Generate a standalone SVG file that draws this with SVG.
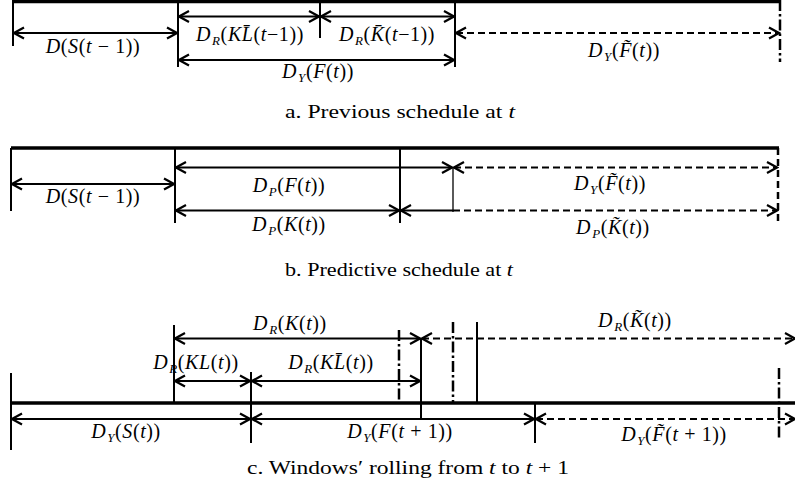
<svg xmlns="http://www.w3.org/2000/svg" width="795" height="487" viewBox="0 0 795 487">
<style>
.bg{fill:#fff}
.thick{stroke:#000;stroke-width:3.5;fill:none}
.v{stroke:#000;stroke-width:2;fill:none}
.vt{stroke:#000;stroke-width:1.3;fill:none}
.dd{stroke:#000;stroke-width:2.5;fill:none;stroke-dasharray:11 3 2.5 3}
.dv{stroke:#000;stroke-width:2.5;fill:none;stroke-dasharray:7 4}
.a{stroke:#000;stroke-width:2;fill:none;marker-start:url(#h);marker-end:url(#h)}
.as{stroke:#000;stroke-width:2;fill:none;marker-start:url(#h)}
.ad{stroke:#000;stroke-width:2;fill:none;stroke-dasharray:7 4;marker-start:url(#h);marker-end:url(#h)}
.dl{stroke:#000;stroke-width:2;fill:none;stroke-dasharray:7 4;marker-end:url(#h)}
text{font-family:"Liberation Serif","DejaVu Serif",serif;font-size:20px;fill:#000;letter-spacing:0.6px}
.cap{font-size:19px;letter-spacing:0}
.i{font-style:italic}
.s{font-size:13px;font-style:italic}
</style>
<defs>
<marker id="h" viewBox="-12 -7 14 14" markerWidth="14" markerHeight="14" refX="0" refY="0" orient="auto-start-reverse" markerUnits="userSpaceOnUse">
<path d="M-10,-5.5 L0,0 L-10,5.5" fill="none" stroke="#000" stroke-width="2.2"/>
</marker>
</defs>
<rect class="bg" x="0" y="0" width="795" height="487"/>

<!-- Panel a -->
<g id="panel-a">
<g id="a-frame">
<path class="thick" d="M13,1.5 H781"/>
<path class="v" d="M13,0 V46 M178,0 V67 M320,0 V38 M455,0 V67"/>
<path class="dd" d="M780,0 V62"/>
</g>
<g id="a-connectors">
<path class="a" d="M14,33 H177"/>
<path class="a" d="M179,16.5 H319"/>
<path class="a" d="M321,16.5 H454"/>
<path class="a" d="M179,60 H454"/>
<path class="ad" d="M456,33 H779"/>
</g>
<g id="a-labels">
<text x="93" y="53" text-anchor="middle"><tspan class="i">D</tspan>(<tspan class="i">S</tspan>(<tspan class="i">t</tspan> − 1))</text>
<text x="250" y="41" text-anchor="middle"><tspan class="i">D</tspan><tspan class="s" dx="1" dy="4">R</tspan><tspan dy="-4">(</tspan><tspan class="i">KL̄</tspan>(<tspan class="i">t</tspan>−1))</text>
<text x="387" y="41" text-anchor="middle"><tspan class="i">D</tspan><tspan class="s" dx="1" dy="4">R</tspan><tspan dy="-4">(</tspan><tspan class="i">K̄</tspan>(<tspan class="i">t</tspan>−1))</text>
<text x="318" y="78" text-anchor="middle"><tspan class="i">D</tspan><tspan class="s" dx="1" dy="4">Y</tspan><tspan dy="-4">(</tspan><tspan class="i">F</tspan>(<tspan class="i">t</tspan>))</text>
<text x="624" y="57" text-anchor="middle"><tspan class="i">D</tspan><tspan class="s" dx="1" dy="4">Y</tspan><tspan dy="-4">(</tspan><tspan class="i">F̃</tspan>(<tspan class="i">t</tspan>))</text>
<text class="cap" x="400" y="118" text-anchor="middle" textLength="230" lengthAdjust="spacingAndGlyphs">a. Previous schedule at <tspan class="i">t</tspan></text>
</g>
</g>

<!-- Panel b -->
<g id="panel-b">
<g id="b-frame">
<path class="thick" d="M11,148 H779"/>
<path class="v" d="M11,148 V211 M175,148 V223 M400,148 V223"/>
<path class="vt" d="M453,167 V212"/>
<path class="dv" d="M778,148 V222"/>
</g>
<g id="b-connectors">
<path class="a" d="M12,184 H174"/>
<path class="a" d="M176,167.5 H452"/>
<path class="ad" d="M454,167.5 H777"/>
<path class="a" d="M176,210.5 H399"/>
<path class="as" d="M401,210.5 H453"/>
<path class="dl" d="M453,210.5 H777"/>
</g>
<g id="b-labels">
<text x="93" y="203" text-anchor="middle"><tspan class="i">D</tspan>(<tspan class="i">S</tspan>(<tspan class="i">t</tspan> − 1))</text>
<text x="289" y="192" text-anchor="middle"><tspan class="i">D</tspan><tspan class="s" dx="1" dy="4">P</tspan><tspan dy="-4">(</tspan><tspan class="i">F</tspan>(<tspan class="i">t</tspan>))</text>
<text x="610" y="190" text-anchor="middle"><tspan class="i">D</tspan><tspan class="s" dx="1" dy="4">Y</tspan><tspan dy="-4">(</tspan><tspan class="i">F̃</tspan>(<tspan class="i">t</tspan>))</text>
<text x="289" y="231" text-anchor="middle"><tspan class="i">D</tspan><tspan class="s" dx="1" dy="4">P</tspan><tspan dy="-4">(</tspan><tspan class="i">K</tspan>(<tspan class="i">t</tspan>))</text>
<text x="613" y="234" text-anchor="middle"><tspan class="i">D</tspan><tspan class="s" dx="1" dy="4">P</tspan><tspan dy="-4">(</tspan><tspan class="i">K̃</tspan>(<tspan class="i">t</tspan>))</text>
<text class="cap" x="399" y="276" text-anchor="middle" textLength="228" lengthAdjust="spacingAndGlyphs">b. Predictive schedule at <tspan class="i">t</tspan></text>
</g>
</g>

<!-- Panel c -->
<g id="panel-c">
<g id="c-frame">
<path class="thick" d="M11,403 H795"/>
<path class="v" d="M11,373 V450 M174,325 V403 M251,372 V443 M421,338 V419 M477,322 V403 M535,403 V443"/>
<path class="dd" d="M399,330 V403 M453,322 V403 M779,368 V440"/>
</g>
<g id="c-connectors">
<path class="a" d="M175,338.5 H420"/>
<path class="ad" d="M422,338.5 H795"/>
<path class="a" d="M175,381 H250"/>
<path class="a" d="M252,381 H420"/>
<path class="a" d="M12,419 H250"/>
<path class="a" d="M252,419 H534"/>
<path class="ad" d="M536,419 H795"/>
</g>
<g id="c-labels">
<text x="290" y="330" text-anchor="middle"><tspan class="i">D</tspan><tspan class="s" dx="1" dy="4">R</tspan><tspan dy="-4">(</tspan><tspan class="i">K</tspan>(<tspan class="i">t</tspan>))</text>
<text x="635" y="327" text-anchor="middle"><tspan class="i">D</tspan><tspan class="s" dx="1" dy="4">R</tspan><tspan dy="-4">(</tspan><tspan class="i">K̃</tspan>(<tspan class="i">t</tspan>))</text>
<text x="196" y="369" text-anchor="middle"><tspan class="i">D</tspan><tspan class="s" dx="1" dy="4">R</tspan><tspan dy="-4">(</tspan><tspan class="i">KL</tspan>(<tspan class="i">t</tspan>))</text>
<text x="331" y="369" text-anchor="middle"><tspan class="i">D</tspan><tspan class="s" dx="1" dy="4">R</tspan><tspan dy="-4">(</tspan><tspan class="i">KL̄</tspan>(<tspan class="i">t</tspan>))</text>
<text x="126" y="438" text-anchor="middle"><tspan class="i">D</tspan><tspan class="s" dx="1" dy="4">Y</tspan><tspan dy="-4">(</tspan><tspan class="i">S</tspan>(<tspan class="i">t</tspan>))</text>
<text x="400" y="438" text-anchor="middle"><tspan class="i">D</tspan><tspan class="s" dx="1" dy="4">Y</tspan><tspan dy="-4">(</tspan><tspan class="i">F</tspan>(<tspan class="i">t</tspan> + 1))</text>
<text x="674" y="441" text-anchor="middle"><tspan class="i">D</tspan><tspan class="s" dx="1" dy="4">Y</tspan><tspan dy="-4">(</tspan><tspan class="i">F̃</tspan>(<tspan class="i">t</tspan> + 1))</text>
<text class="cap" x="408" y="474" text-anchor="middle" textLength="322" lengthAdjust="spacingAndGlyphs">c. Windows′ rolling from <tspan class="i">t</tspan> to <tspan class="i">t</tspan> + 1</text>
</g>
</g>
</svg>
